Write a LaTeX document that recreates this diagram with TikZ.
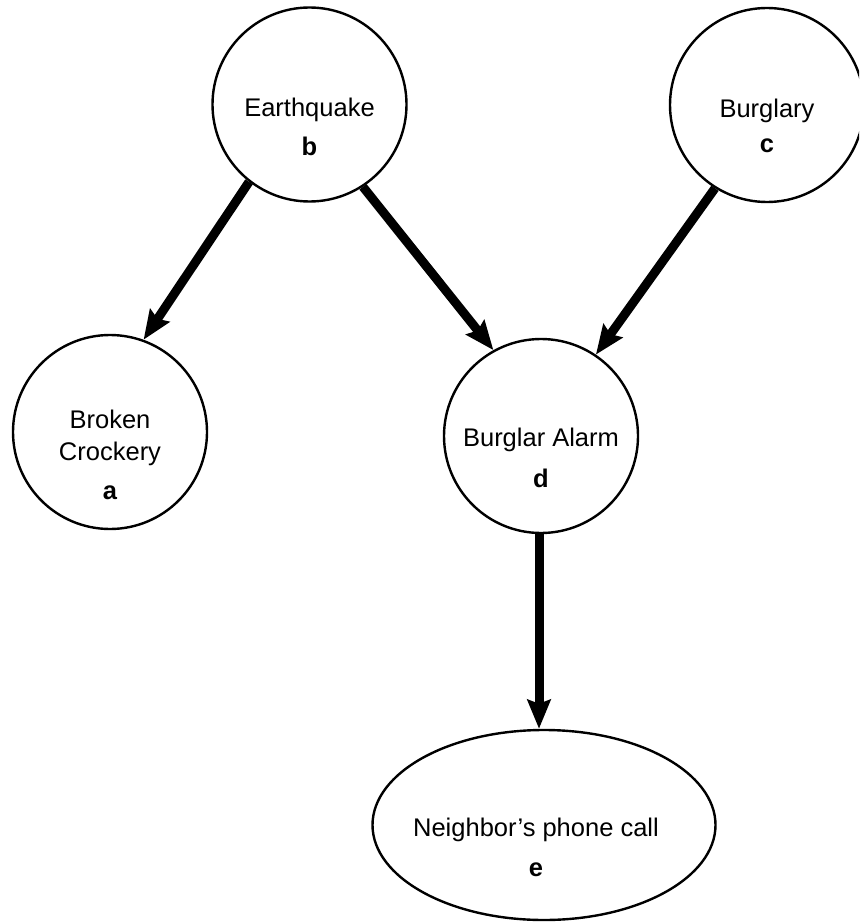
\documentclass[tikz,border=0pt]{standalone}
\usepackage{fontspec}
\setmainfont{Liberation Sans}
\usetikzlibrary{arrows.meta,shapes.geometric}
\begin{document}
\begin{tikzpicture}[x=1pt,y=-1pt,
  var/.style={circle,draw,line width=2.4pt,minimum size=194pt,inner sep=0pt},
  oval/.style={ellipse,draw,line width=2.4pt,minimum width=343pt,minimum height=190pt,inner sep=0pt},
  lbl/.style={font=\fontsize{25.5}{30}\selectfont,inner sep=0pt},
  tag/.style={font=\fontsize{25.5}{30}\selectfont\bfseries,inner sep=0pt},
  link/.style={line width=9pt,-{Stealth[length=29pt,width=23pt,inset=4pt]}}
]
\clip (0,0) rectangle (859,923);

% variables of the network
\node[var] (eq) at (309.5,104.5) {};
\node[var] (bu) at (767,105) {};
\node[var] (cr) at (110,432) {};
\node[var] (al) at (541,436) {};
\node[oval] (ne) at (544,825) {};

% names and letters inside the nodes (canvas shifts: negative is downwards)
\node[lbl] (eqn) at ([yshift=-5pt]eq.center) {Earthquake};
\node[tag] (eqt) at ([yshift=-42pt]eq.center) {b};
\node[lbl] (bun) at ([yshift=-6pt]bu.center) {Burglary};
\node[tag] (but) at ([yshift=-41pt]bu.center) {c};
\node[lbl] (crn1) at ([yshift=13pt]cr.center) {Broken};
\node[lbl] (crn2) at ([yshift=-22pt]cr.center) {Crockery};
\node[tag] (crt) at ([yshift=-61pt]cr.center) {a};
\node[lbl] (aln) at ([yshift=-4pt]al.center) {Burglar Alarm};
\node[tag] (alt) at ([yshift=-42pt]al.center) {d};
\node[lbl] (nen) at ([xshift=-8pt,yshift=-5pt]ne.center) {Neighbor’s phone call};
\node[tag] (net) at ([xshift=-8pt,yshift=-45pt]ne.center) {e};

% causal links
\draw[link] (eq.232.8) -- (cr.70.6);
\draw[link] (eq.303.6) -- (al.119.7);
\draw[link] (bu.238.6) -- (al.56.3);
\draw[link] ([xshift=-2pt]al.south) -- ([xshift=-2pt]al.south |- ne.north);
\end{tikzpicture}
\end{document}
